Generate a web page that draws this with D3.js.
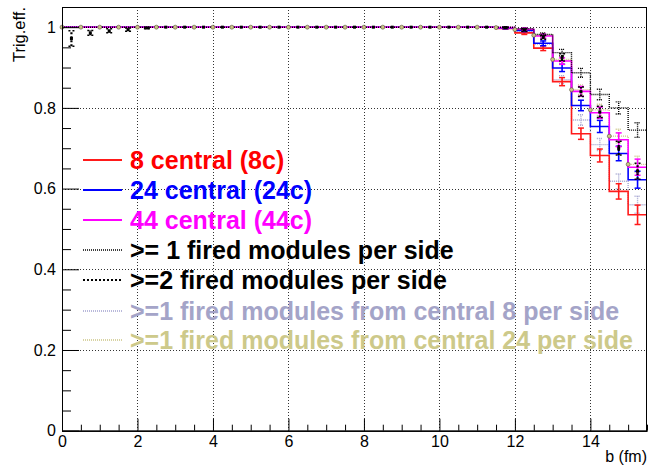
<!DOCTYPE html>
<html><head><meta charset="utf-8">
<script src="https://cdn.jsdelivr.net/npm/d3@7"></script>
<style>body{margin:0;background:#fff} svg{display:block;font-family:"Liberation Sans",Arial,Helvetica,sans-serif}</style>
</head><body><svg id="c" width="652" height="466"></svg>
<script>
// Impact-parameter bins: 31 bins of 0.5 fm from 0 to 15.5 fm
const binLow = d3.range(0, 15.5, 0.5);
const binWidth = 0.5;

// Trigger efficiency per bin for each condition
const eff8c   = [1,1,1,1,1,1,1,1,1,1, 1,1,1,1,1,1,1,1,1,1, 1,1,1, 0.997,0.986,0.948,0.865,0.736,0.682,0.593,0.535];
const eff24c  = [1,1,1,1,1,1,1,1,1,1, 1,1,1,1,1,1,1,1,1,1, 1,1,1, 0.998,0.992,0.960,0.899,0.806,0.754,0.687,0.622];
const eff44c  = [1,1,1,1,1,1,1,1,1,1, 1,1,1,1,1,1,1,1,1,1, 1,1,1, 0.999,0.995,0.978,0.916,0.841,0.788,0.721,0.653];
const effGe1  = [1,1,1,1,1,1,1,1,1,1, 1,1,1,1,1,1,1,1,1,1, 1,1,1, 1.000,0.996,0.982,0.937,0.887,0.833,0.800,0.745];
const effGe2  = [0.972,0.986,0.991,0.994,0.998,1,1,1,1,1, 1,1,1,1,1,1,1,1,1,1, 1,1,1, 0.999,0.993,0.975,0.925,0.840,0.790,0.700,0.643];
const effGe1c8  = [1,1,1,1,1,1,1,1,1,1, 1,1,1,1,1,1,1,1,1,1, 1,1,1, 0.997,0.988,0.958,0.870,0.770,0.709,0.618,0.560];
const effGe1c24 = [1,1,1,1,1,1,1,1,1,1, 1,1,1,1,1,1,1,1,1,1, 1,1,1, 0.999,0.994,0.980,0.920,0.845,0.795,0.730,0.660];

// Statistical uncertainties per bin
const err8c   = [0,0,0,0,0,0,0,0,0,0, 0,0,0,0,0,0,0,0,0,0, 0,0,0, 0.002,0.004,0.006,0.010,0.014,0.016,0.019,0.024];
const err24c  = [0,0,0,0,0,0,0,0,0,0, 0,0,0,0,0,0,0,0,0,0, 0,0,0, 0.002,0.003,0.006,0.009,0.013,0.015,0.018,0.021];
const err44c  = [0,0,0,0,0,0,0,0,0,0, 0,0,0,0,0,0,0,0,0,0, 0,0,0, 0.001,0.003,0.005,0.008,0.012,0.014,0.017,0.020];
const errGe1  = [0,0,0,0,0,0,0,0,0,0, 0,0,0,0,0,0,0,0,0,0, 0,0,0, 0.001,0.002,0.004,0.008,0.011,0.013,0.015,0.018];
const errGe2  = [0.019,0.006,0.005,0.004,0.002,0,0,0,0,0, 0,0,0,0,0,0,0,0,0,0, 0,0,0, 0.001,0.003,0.005,0.009,0.012,0.014,0.017,0.020];
const errGe1c8  = [0,0,0,0,0,0,0,0,0,0, 0,0,0,0,0,0,0,0,0,0, 0,0,0, 0.002,0.004,0.006,0.010,0.013,0.015,0.018,0.021];
const errGe1c24 = [0,0,0,0,0,0,0,0,0,0, 0,0,0,0,0,0,0,0,0,0, 0,0,0, 0.001,0.003,0.005,0.009,0.012,0.014,0.017,0.020];

const legendLabels = [
  "8 central (8c)",
  "24 central (24c)",
  "44 central (44c)",
  ">= 1 fired modules per side",
  ">=2 fired modules per side",
  ">=1 fired modules from central 8 per side",
  ">=1 fired modules from central 24 per side"
];

const xTicks = [0, 2, 4, 6, 8, 10, 12, 14];
const yTicks = [0, 0.2, 0.4, 0.6, 0.8, 1];
const xTitle = "b (fm)";
const yTitle = "Trig.eff.";

// Drawing styles for each condition (hist: step outline, otherwise markers with error bars);
// z sets the stacking order of the curves
const series = [
  {vals: eff8c,    errs: err8c,    color: "#ff1a1a", width: 1.6, dash: null,  text: "#ff0000", hist: true, z: 2},
  {vals: eff24c,   errs: err24c,   color: "#0000ff", width: 1.6, dash: null,  text: "#0000ff", hist: true, z: 3},
  {vals: eff44c,   errs: err44c,   color: "#ff00ff", width: 1.6, dash: null,  text: "#ff00ff", hist: true, z: 4},
  {vals: effGe1,   errs: errGe1,   color: "#000000", width: 1.4, dash: "1,1", text: "#000000", hist: true, z: 5},
  {vals: effGe2,   errs: errGe2,   color: "#000000", width: 2.2, dash: "2,2", text: "#000000", hist: false, square: true, z: 6},
  {vals: effGe1c8, errs: errGe1c8, color: "#a3a3cf", width: 1.4, dash: "1,1", text: "#a4a4c8", hist: true, z: 0},
  {vals: effGe1c24,errs: errGe1c24,color: "#cbc585", width: 1.4, dash: "1,1", text: "#cdc98a", hist: true, circle: true, z: 1}
];

const svg = d3.select("#c");
const W = 652, H = 466;
const L = 62, R = 647, T = 7, B = 430.7;

const x = d3.scaleLinear().domain([0, 15.5]).range([L, R]);
const y = d3.scaleLinear().domain([0, 1.05]).range([B, T]);

svg.append("rect").attr("width", W).attr("height", H).attr("fill", "#fff");

// grid
const grid = svg.append("g").attr("stroke", "#333").attr("stroke-width", 1).attr("stroke-dasharray", "1,2");
grid.selectAll(".gx").data(xTicks.filter(d => d > 0)).enter().append("line")
  .attr("x1", d => Math.round(x(d)) + 0.5).attr("x2", d => Math.round(x(d)) + 0.5)
  .attr("y1", T).attr("y2", B);
grid.selectAll(".gy").data(yTicks.filter(d => d > 0)).enter().append("line")
  .attr("y1", d => Math.round(y(d)) + 0.5).attr("y2", d => Math.round(y(d)) + 0.5)
  .attr("x1", L).attr("x2", R);

// histograms
const plot = svg.append("g");
const markers = svg.append("g");
const step = d3.line().x(d => x(d[0])).y(d => y(d[1])).curve(d3.curveStepAfter);

series.slice().sort((a, b) => a.z - b.z).forEach(s => {
  const g = plot.append("g").attr("stroke", s.color).attr("stroke-width", s.width)
    .attr("fill", "none");
  if (s.dash) g.attr("stroke-dasharray", s.dash);
  if (s.hist) {
    const pts = binLow.map((b, i) => [b, s.vals[i]]);
    pts.push([15.5, s.vals[s.vals.length - 1]]);
    g.append("path").attr("d", step(pts));
  }
  binLow.forEach((b, i) => {
    const e = s.errs[i];
    if (e <= 0) return;
    const cx = x(b + binWidth / 2);
    g.append("line").attr("x1", cx).attr("x2", cx)
      .attr("y1", y(s.vals[i] - e)).attr("y2", y(s.vals[i] + e));
    [s.vals[i] - e, s.vals[i] + e].forEach(v => {
      g.append("line").attr("x1", cx - 3).attr("x2", cx + 3)
        .attr("y1", y(v)).attr("y2", y(v)).attr("stroke-dasharray", null)
        .attr("stroke-width", Math.min(s.width, 1.5));
    });
  });
  if (s.square) {
    markers.append("g").selectAll("rect").data(binLow).enter().append("rect")
      .attr("x", (b) => x(b + binWidth / 2) - 1.5)
      .attr("y", (b, i) => y(s.vals[i]) - 1.5)
      .attr("width", 3).attr("height", 3).attr("fill", "#000");
  }
  if (s.circle) {
    markers.append("g").selectAll("circle").data(binLow).enter().append("circle")
      .attr("cx", b => x(b))
      .attr("cy", (b, i) => y(s.vals[i]))
      .attr("r", 2).attr("fill", s.color).attr("stroke", "#55503a").attr("stroke-width", 0.6);
  }
});

// frame
svg.append("rect").attr("x", L + 0.5).attr("y", T + 0.5).attr("width", R - L - 1).attr("height", B - T)
  .attr("fill", "none").attr("stroke", "#000").attr("stroke-width", 1);

// axes (ticks pointing inward)
const yMinor = d3.range(0, 1.051, 0.05).filter(v => !yTicks.some(t => Math.abs(t - v) < 1e-6));
const xMinor = d3.range(0, 15.51, 0.5).filter(v => !xTicks.some(t => Math.abs(t - v) < 1e-6));

svg.append("g").attr("transform", `translate(${L},0)`)
  .call(d3.axisLeft(y).tickValues(yTicks).tickFormat(d3.format("~g")).tickSizeInner(-17).tickSizeOuter(0).tickPadding(6));
svg.append("g").attr("transform", `translate(${L},0)`)
  .call(d3.axisLeft(y).tickValues(yMinor).tickFormat("").tickSizeInner(-9).tickSizeOuter(0));
svg.append("g").attr("transform", `translate(0,${B})`)
  .call(d3.axisBottom(x).tickValues(xTicks).tickFormat(d3.format("~g")).tickSizeInner(-12).tickSizeOuter(0).tickPadding(5));
svg.append("g").attr("transform", `translate(0,${B})`)
  .call(d3.axisBottom(x).tickValues(xMinor).tickFormat("").tickSizeInner(-6).tickSizeOuter(0));

svg.selectAll(".domain").attr("stroke", "#000");
svg.selectAll(".tick line").attr("stroke", "#000");
svg.selectAll(".tick text").attr("font-size", 16).attr("fill", "#000")
  .attr("font-family", "Liberation Sans, Arial, sans-serif");

// titles
svg.append("text").attr("transform", "translate(25,7) rotate(-90)")
  .attr("text-anchor", "end").attr("font-size", 16.5).text(yTitle);
svg.append("text").attr("x", 647).attr("y", 462)
  .attr("text-anchor", "end").attr("font-size", 16).text(xTitle);

// legend
const legendY = [160, 190, 220, 250, 280, 311, 340];
const leg = svg.append("g");
series.forEach((s, i) => {
  const ly = legendY[i];
  const ln = leg.append("line").attr("x1", 83).attr("x2", 122).attr("y1", ly).attr("y2", ly)
    .attr("stroke", s.color).attr("stroke-width", s.dash ? s.width : 2.2);
  if (s.dash) ln.attr("stroke-dasharray", s.dash);
  leg.append("text").attr("x", 130).attr("y", ly).attr("dy", "0.36em")
    .attr("font-size", 25).attr("font-weight", "bold").attr("fill", s.text)
    .text(legendLabels[i]);
});
</script>
</body></html>
